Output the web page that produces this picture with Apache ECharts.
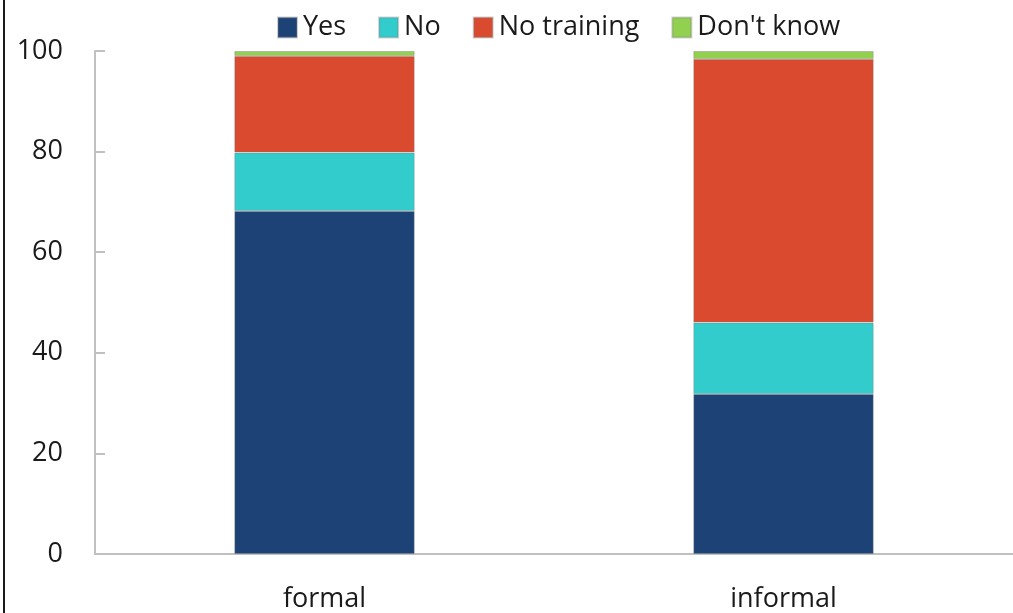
<!DOCTYPE html>
<html>
<head>
<meta charset="utf-8">
<script src="https://cdn.jsdelivr.net/npm/echarts@6/dist/echarts.min.js"></script>
<style>
html,body{margin:0;padding:0;background:#fff;}
#wrap{position:relative;width:1013px;height:613px;overflow:hidden;}
#chart{width:1013px;height:613px;}
#edge{position:absolute;left:3px;top:0;width:2px;height:613px;background:#1a1a1a;}
</style>
</head>
<body>
<div id="wrap"><div id="chart"></div><div id="edge"></div></div>
<script>
var categories = ['formal', 'informal'];
var seriesNames = ['Yes', 'No', 'No training', "Don't know"];
var yesValues = [68.2, 31.8];
var noValues = [11.6, 14.2];
var noTrainingValues = [19.2, 52.4];
var dontKnowValues = [1.0, 1.6];
var yTicks = [0, 20, 40, 60, 80, 100];

var colors = ['#1D4275', '#33CCCC', '#D94A2E', '#92D050'];
var allValues = [yesValues, noValues, noTrainingValues, dontKnowValues];
var font = 'Open Sans';

var chart = echarts.init(document.getElementById('chart'));
chart.setOption({
  animation: false,
  backgroundColor: '#ffffff',
  color: colors,
  textStyle: {fontFamily: font},
  legend: {
    data: seriesNames,
    left: 272, top: 9,
    itemWidth: 19, itemHeight: 20, itemGap: 32,
    icon: 'rect',
    textStyle: {fontFamily: font, fontSize: 27, color: '#1a1a1a', padding: [0, 0, 0, 1]}
  },
  grid: {left: 95, width: 923, top: 51, bottom: 59, containLabel: false},
  xAxis: {
    type: 'category',
    data: categories,
    axisLine: {lineStyle: {color: '#c0c0c0', width: 2}},
    axisTick: {inside: true, length: 12, lineStyle: {color: '#c0c0c0', width: 2}},
    axisLabel: {fontFamily: font, fontSize: 27, color: '#1a1a1a', margin: 32}
  },
  yAxis: {
    type: 'value',
    min: yTicks[0], max: yTicks[yTicks.length - 1], interval: yTicks[1] - yTicks[0],
    axisLine: {show: true, lineStyle: {color: '#c0c0c0', width: 2}},
    axisTick: {show: true, inside: true, length: 10, lineStyle: {color: '#c0c0c0', width: 2}},
    splitLine: {show: false},
    axisLabel: {fontFamily: font, fontSize: 27, color: '#1a1a1a', margin: 32}
  },
  series: seriesNames.map(function (name, i) {
    return {
      name: name,
      type: 'bar',
      stack: 'total',
      barWidth: '39.3%',
      data: allValues[i],
      itemStyle: {color: colors[i], borderColor: 'rgba(120,120,120,0.35)', borderWidth: 1}
    };
  })
});
</script>
</body>
</html>
